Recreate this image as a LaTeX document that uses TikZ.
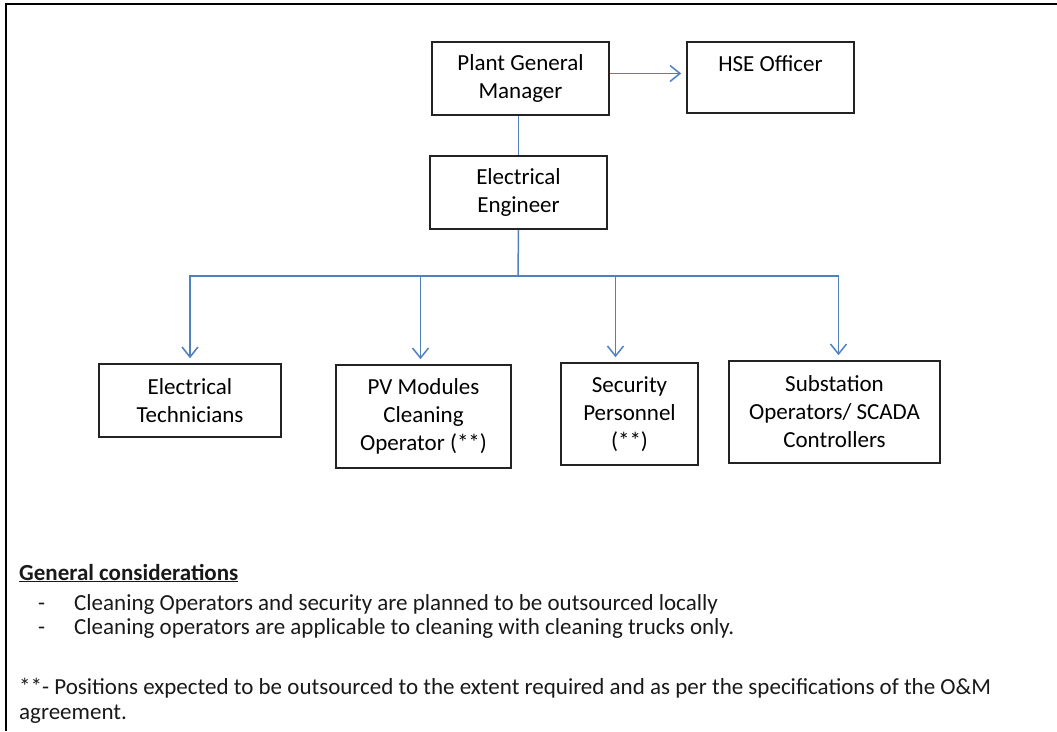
\documentclass[tikz,border=0pt]{standalone}
\usepackage{fontspec}
\setmainfont{Carlito}
\usetikzlibrary{arrows.meta, positioning, calc}
\definecolor{linkblue}{RGB}{79,129,189}
\definecolor{boxline}{RGB}{35,35,35}
\definecolor{notegray}{RGB}{25,25,25}
\tikzset{
  rolebox/.style={rectangle, draw=boxline, line width=1.6pt, align=center,
    font=\fontsize{23}{28}\selectfont, inner sep=0pt},
  link/.style={color=linkblue, line width=1.5pt},
  arrow/.style={-{Straight Barb[length=10pt, width=16pt]}, link, shorten >=5pt},
  note/.style={anchor=base west, inner sep=0pt, text=notegray,
    font=\fontsize{23}{25}\selectfont},
}
\begin{document}
\begin{tikzpicture}[x=1pt, y=-1pt]
  \useasboundingbox (0,0) rectangle (1057,731);
  % frame
  \draw[line width=2.2pt] (6,731) -- (6,4) -- (1057,4);

  % top of the chart
  \node[rolebox, minimum width=177pt, minimum height=73pt] (pgm) at (520.5,78.5)
       {Plant General\\ Manager};
  \node[rolebox, minimum width=167pt, minimum height=71pt] (hse) at (770.5,77.5)
       {HSE Officer\\ \mbox{}};
  \node[rolebox, minimum width=177pt, minimum height=73pt] (ee) at (518.5,192.5)
       {Electrical\\ Engineer};

  % staff row
  \node[rolebox, minimum width=182pt, minimum height=73pt] (tech) at (190,400.5)
       {Electrical\\ Technicians};
  \node[rolebox, minimum width=175pt, minimum height=103pt] (pv) at (423.5,416.5)
       {PV Modules\\ Cleaning\\ Operator (**)};
  \node[rolebox, minimum width=137pt, minimum height=102pt] (sec) at (629.5,414)
       {Security\\ Personnel\\ (**)};
  \node[rolebox, minimum width=211pt, minimum height=102pt] (sub) at (834.5,412)
       {Substation\\ Operators/ SCADA\\ Controllers};

  \draw[arrow] ([yshift=5pt]pgm.east) -- ([yshift=5pt]pgm.east -| hse.west);
  \draw[link] (ee.north |- pgm.south) -- (ee.north);

  \coordinate (bus) at (518,276);
  \draw[link] (ee.south) -- (bus);
  \draw[arrow] (bus) -| (tech.north);
  \draw[arrow] (bus) -| ([xshift=-3pt]pv.north);
  \draw[arrow] (bus) -| ([xshift=-14pt]sec.north);
  \draw[arrow] (bus) -| ([xshift=4pt]sub.north);

  % notes below the chart
  \node[note] (gen) at (19,580) {\textbf{\underline{General considerations}}};
  \node[note] (dash1) at (38,610) {-};
  \node[note] (item1) at (74,610)
       {Cleaning Operators and security are planned to be outsourced locally};
  \node[note] (dash2) at (38,634) {-};
  \node[note] (item2) at (74,634)
       {Cleaning operators are applicable to cleaning with cleaning trucks only.};
  \node[note] (foot) at (19,694)
       {**- Positions expected to be outsourced to the extent required and as per the specifications of the O\&M};
  \node[note] (foot2) at (19,719) {agreement.};
\end{tikzpicture}
\end{document}
